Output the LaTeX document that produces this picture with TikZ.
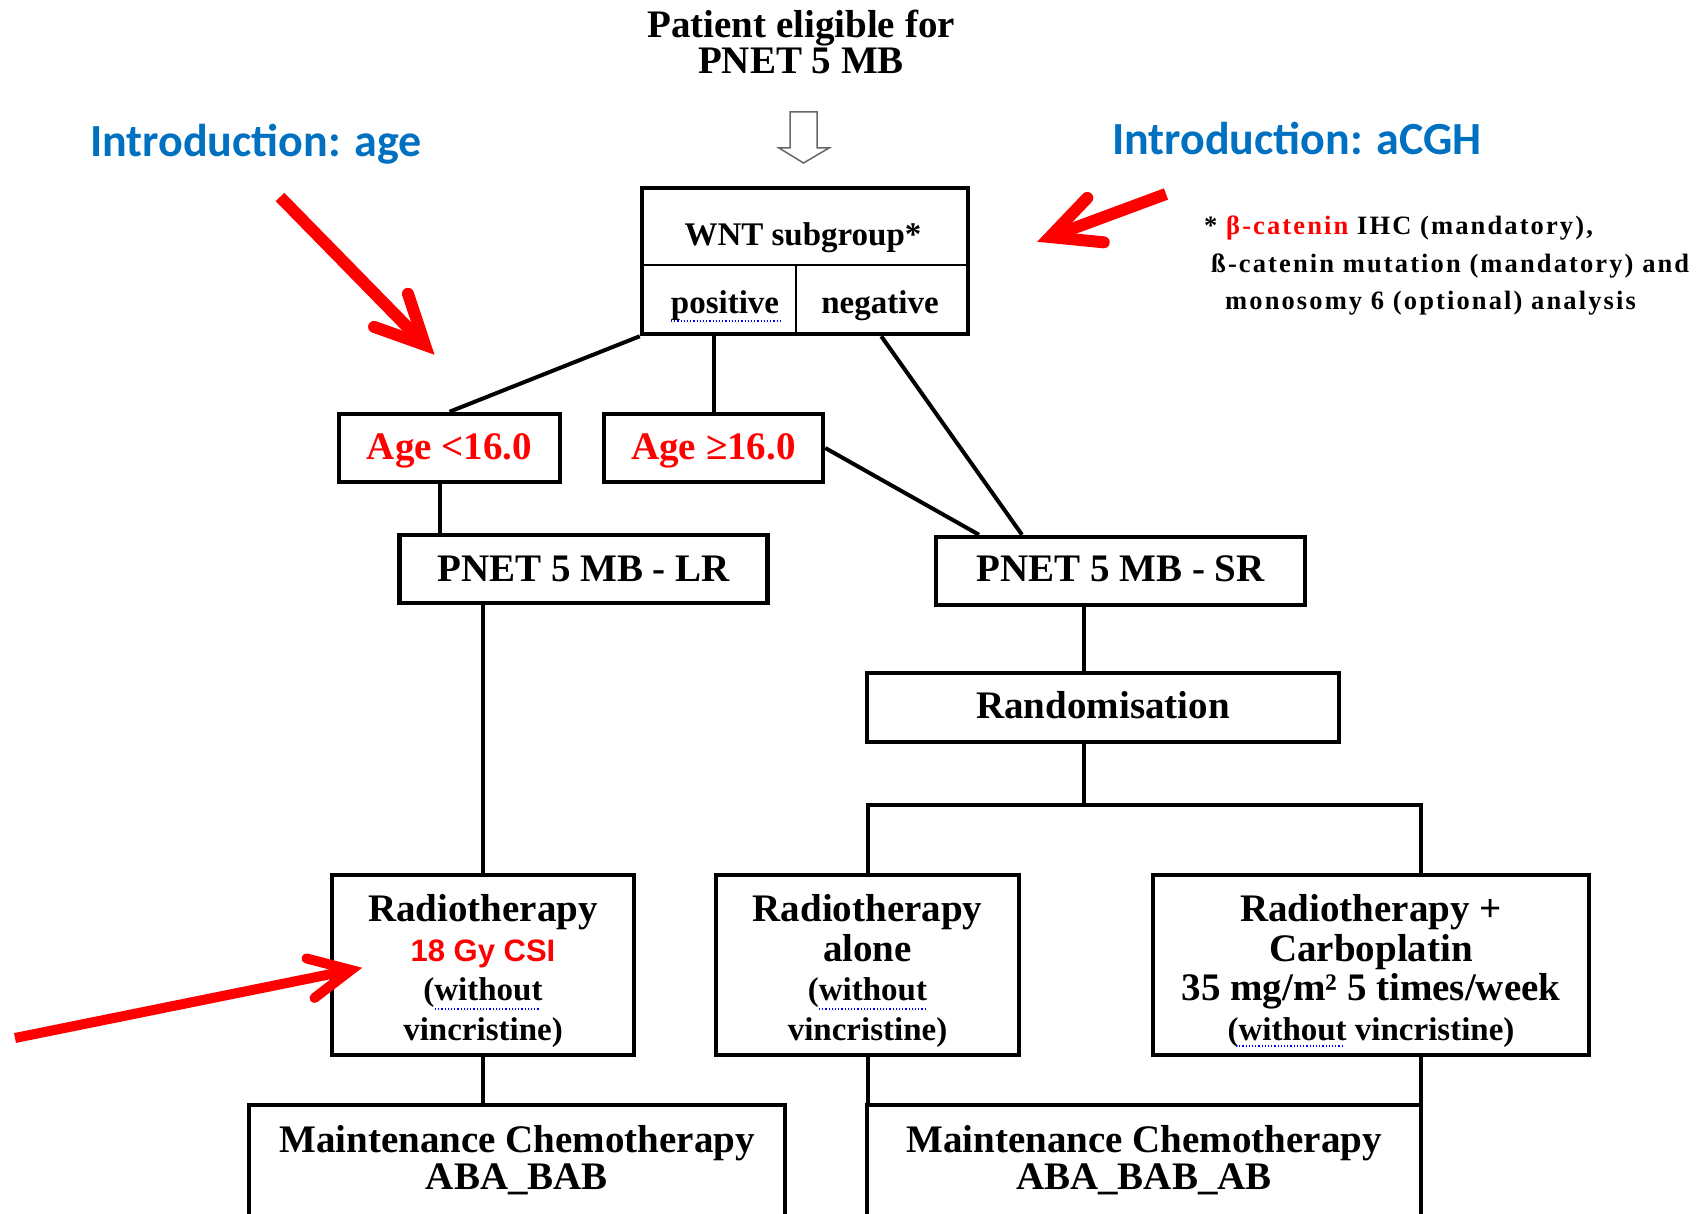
\documentclass[tikz,border=0pt]{standalone}
\usepackage{fontspec}
\setmainfont{Liberation Serif}
\newfontfamily\arialfont{Liberation Sans}
\newfontfamily\calfont{Carlito}
\usetikzlibrary{calc}
\definecolor{introblue}{RGB}{0,112,192}
\definecolor{arrred}{RGB}{255,0,0}
\newcommand\fsz[2]{\fontsize{#1}{#2}\selectfont}
\tikzset{
  box/.style={draw, line width=4.5pt, inner sep=0pt},
  boxtext/.style={inner sep=0pt, align=center, font=\bfseries\fsz{39}{39.5}},
  conn/.style={line width=4pt},
  divline/.style={line width=1.3pt},
  intro/.style={font=\calfont\bfseries\fsz{46}{48}, text=introblue, inner sep=0pt},
  foot/.style={font=\bfseries\fsz{26.5}{27}\addfontfeature{LetterSpace=8}, anchor=west, inner sep=0pt},
  redarr/.style={draw=arrred, line width=#1},
  spell/.style={draw=blue, line width=1.2pt, dotted},
  hollow/.style={draw=black!60, line width=1.5pt, fill=white}
}
\newcommand\redarrow[4]{% start, tip, width, arm
  \draw[redarr=#3] (#1) -- ($(#2)!0.3*#3!(#1)$);
  \draw[redarr=#3, line cap=round, line join=miter]
    ($(#2)!#4!26:(#1)$) -- (#2) -- ($(#2)!#4!-26:(#1)$);
}
\begin{document}
\begin{tikzpicture}[x=1pt,y=-1pt]
\useasboundingbox (0,0) rectangle (1705,1214);
\clip (0,0) rectangle (1705,1214);

% title
\node[font=\bfseries\fsz{39}{36}, align=center, inner sep=0pt] (title) at (801,42) {Patient eligible for\\PNET 5 MB};
% hollow block arrow
\draw[hollow] (790,112) -- (817,112) -- (817,148) -- (829,148) -- (803.5,163) -- (779,148) -- (790,148) -- cycle;

% intro labels
\node[intro] (introage) at (256,144) {Introduction: age};
\node[intro] (introcgh) at (1297,138) {Introduction: aCGH};

% WNT box
\node[box, minimum width=326pt, minimum height=146pt] (wnt) at (805,261) {};
\draw[divline] (wnt.west |- 0,265) -- (wnt.east |- 0,265);
\draw[divline] (796,265) -- (796,0 |- wnt.south);
\node[font=\bfseries\fsz{33}{34}, inner sep=0pt] (wnttxt) at (803,238) {WNT subgroup*};
\node[font=\bfseries\fsz{33}{34}, inner sep=0pt] (pos) at (725,306) {positive};
\node[font=\bfseries\fsz{33}{34}, inner sep=0pt] (neg) at (880,306) {negative};
\draw[spell] (671,321) -- (780,321);

% footnote
\node[foot] (fn1) at (1204,228) {* {\color{arrred}β-catenin} IHC (mandatory),};
\node[foot] (fn2) at (1211,266) {ß-catenin mutation (mandatory) and};
\node[foot] (fn3) at (1225,303) {monosomy 6 (optional) analysis};

% age boxes
\node[box, minimum width=221pt, minimum height=68pt] (age1) at (449.5,448) {};
\node[box, minimum width=219pt, minimum height=68pt] (age2) at (713.5,448) {};
\node[boxtext, text=arrred] (age1t) at (449.5,451) {Age <16.0};
\node[boxtext, text=arrred] (age2t) at (713.5,451) {Age ≥16.0};

% risk groups
\node[box, minimum width=368pt, minimum height=68pt] (lr) at (583.5,569) {};
\node[box, minimum width=369pt, minimum height=68pt] (sr) at (1120.5,571) {};
\node[box, minimum width=472pt, minimum height=69pt] (rnd) at (1103,707.5) {};
\node[boxtext] (lrt) at (583.5,569) {PNET 5 MB - LR};
\node[boxtext] (srt) at (1120.5,569) {PNET 5 MB - SR};
\node[boxtext] (rndt) at (1103,705) {Randomisation};

% treatment boxes
\node[box, minimum width=302pt, minimum height=180pt] (rt1) at (483,965) {};
\node[box, minimum width=303pt, minimum height=180pt] (rt2) at (867.5,965) {};
\node[box, minimum width=436pt, minimum height=180pt] (rt3) at (1371,965) {};
\node[boxtext] (rt1t) at (483,971)
  {Radiotherapy\\{\arialfont\bfseries\fsz{31}{39.5}\color{arrred}18 Gy CSI}\\{\fsz{33}{39.5}(without}\\{\fsz{33}{39.5}vincristine)}};
\node[boxtext] (rt2t) at (867.5,971)
  {Radiotherapy\\alone\\{\fsz{33}{39.5}(without}\\{\fsz{33}{39.5}vincristine)}};
\node[boxtext] (rt3t) at (1371,971)
  {Radiotherapy +\\Carboplatin\\35 mg/m² 5 times/week\\{\fsz{33}{39.5}(without vincristine)}};
\draw[spell] (435,1009) -- (540,1009);
\draw[spell] (819,1009) -- (925,1009);
\draw[spell] (1236,1046) -- (1343,1046);

% maintenance boxes (cut off at bottom)
\node[box, minimum width=536pt, minimum height=195pt] (m1) at (517,1202.5) {};
\node[box, minimum width=554pt, minimum height=195pt] (m2) at (1144,1202.5) {};
\node[boxtext, font=\bfseries\fsz{39}{37}] (m1t) at (517,1160) {Maintenance Chemotherapy\\ABA\_BAB};
\node[boxtext, font=\bfseries\fsz{39}{37}] (m2t) at (1144,1160) {Maintenance Chemotherapy\\ABA\_BAB\_AB};

% connectors
\coordinate (wntneg) at ([xshift=-89pt]wnt.south east);
\draw[conn] (wnt.south west) -- (age1.north);
\draw[conn] (age2.north |- wnt.south) -- (age2.north);
\draw[conn] (wntneg) -- ([xshift=-98.5pt]sr.north);
\draw[conn] (age2.east) -- ([xshift=-141.5pt]sr.north);
\draw[conn] ([xshift=-10pt]age1.south) -- ([xshift=-10pt]age1.south |- lr.north);
\draw[conn] (rt1.north |- lr.south) -- (rt1.north);
\draw[conn] (rt1.south) -- (rt1.south |- m1.north);
\coordinate (junc) at (1084,805);
\coordinate (jr) at (1421,805);
\draw[conn] (junc |- sr.south) -- (junc |- rnd.north);
\draw[conn] (junc |- rnd.south) -- (junc);
\draw[conn] (rt2.north) -- (rt2.north |- junc) -- (jr) -- (jr |- rt3.north);
\draw[conn] (rt2.south) -- (rt2.south |- m2.north);
\draw[conn] (jr |- rt3.south) -- (jr |- m2.north);

% red arrows
\coordinate (a1s) at (280,197); \coordinate (a1t) at (425,345);
\coordinate (a2s) at (1166,194); \coordinate (a2t) at (1050,237);
\coordinate (a3s) at (15,1038); \coordinate (a3t) at (351,970);
\redarrow{a1s}{a1t}{12pt}{54pt}
\redarrow{a2s}{a2t}{12pt}{54pt}
\redarrow{a3s}{a3t}{10pt}{46pt}
\end{tikzpicture}
\end{document}
